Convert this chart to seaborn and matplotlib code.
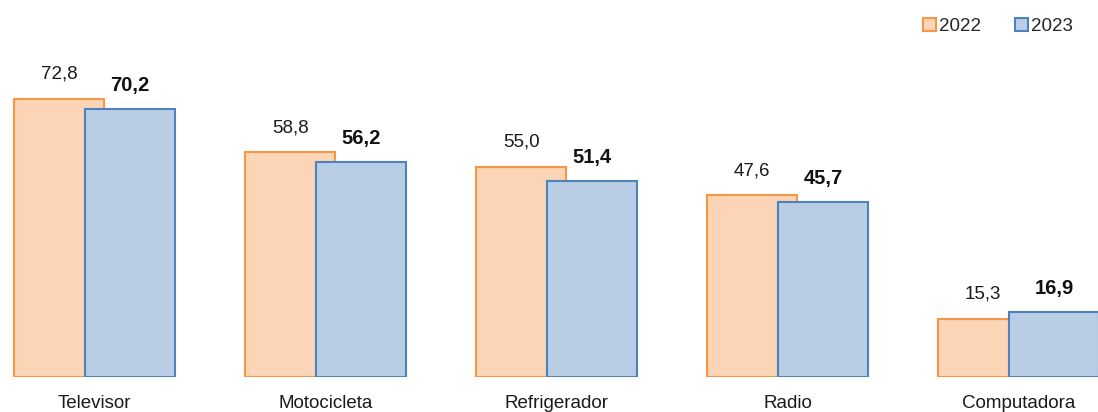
import matplotlib
matplotlib.use("Agg")
import matplotlib.pyplot as plt
import seaborn as sns
import pandas as pd
import numpy as np
from matplotlib.patches import Patch

categories = ["Televisor", "Motocicleta", "Refrigerador", "Radio", "Computadora"]
values_2022 = [72.8, 58.8, 55.0, 47.6, 15.3]
values_2023 = [70.2, 56.2, 51.4, 45.7, 16.9]
years = ["2022", "2023"]

fill_colors = {"2022": "#FBD5B5", "2023": "#B9CDE5"}
edge_colors = {"2022": "#F79646", "2023": "#4F81BD"}

sns.set_theme(style="white")
plt.rcParams["font.family"] = ["Liberation Sans", "DejaVu Sans"]

fig = plt.figure(figsize=(10.98, 4.12), dpi=100)
ax = fig.add_axes([0.0, 0.085, 1.0, 0.915])

bar_w = 0.39
shift = 0.307 / 2
idx = np.arange(len(categories))

series = {"2022": values_2022, "2023": values_2023}
for k, yr in enumerate(years):
    pos = idx + (-shift if k == 0 else shift)
    df = pd.DataFrame({"pos": pos, "value": series[yr]})
    sns.barplot(data=df, x="pos", y="value", native_scale=True, width=bar_w,
                color=fill_colors[yr], saturation=1, edgecolor=edge_colors[yr],
                linewidth=1.5, ax=ax, zorder=2 + k)
    for p, v in zip(pos, series[yr]):
        label = f"{v:.1f}".replace(".", ",")
        if k == 0:
            ax.annotate(label, (p, v), xytext=(0, 20), textcoords="offset pixels",
                        ha="center", va="baseline", fontsize=13.5, color="#1a1a1a")
        else:
            ax.annotate(label, (p, v), xytext=(0, 18), textcoords="offset pixels",
                        ha="center", va="baseline", fontsize=14.5, fontweight="bold",
                        color="#111111")

ax.set_xlim(-0.409, 4.344)
ax.set_ylim(0, 98.7)
ax.set_xticks(idx)
ax.set_xticklabels(categories, fontsize=13.5, color="#1a1a1a")
ax.tick_params(axis="x", length=0, pad=13)
ax.set_yticks([])
ax.set_xlabel("")
ax.set_ylabel("")
for s in ax.spines.values():
    s.set_visible(False)

handles = [Patch(facecolor=fill_colors[y], edgecolor=edge_colors[y], linewidth=1.5, label=y)
           for y in years]
fig.legend(handles=handles, loc="upper right", bbox_to_anchor=(0.9926, 0.998), ncol=2,
           frameon=False, fontsize=13.5, handlelength=0.72, handleheight=0.72,
           handletextpad=0.15, columnspacing=1.8)

fig.savefig("out.png", dpi=100)
